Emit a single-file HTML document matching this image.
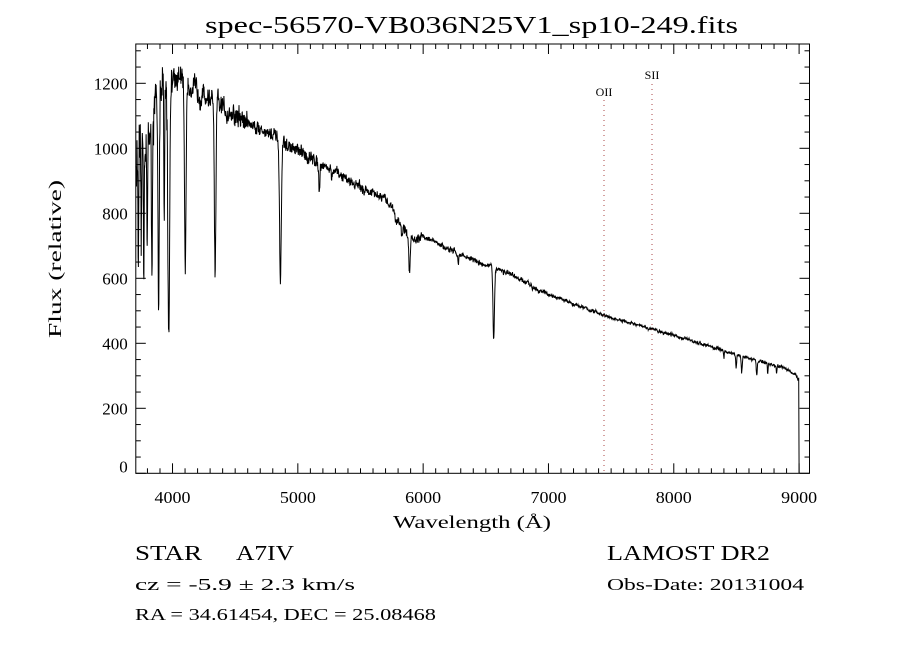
<!DOCTYPE html>
<html><head><meta charset="utf-8"><style>
body{margin:0;background:#fff;}
svg{display:block;}
text{font-family:"Liberation Serif",serif;fill:#000;}
.t{font-family:"Liberation Sans",sans-serif;font-size:17px;}
</style></head><body>
<svg id="s" width="900" height="650" viewBox="0 0 900 650" xmlns="http://www.w3.org/2000/svg">
<rect width="900" height="650" fill="#fff"/>
<text x="205" y="33" font-size="24" textLength="533" lengthAdjust="spacingAndGlyphs">spec-56570-VB036N25V1_sp10-249.fits</text>
<g id="ax" stroke="#000" stroke-width="1" fill="none"></g>
<path id="sp" stroke="#000" stroke-width="1" fill="none"/>
<line x1="604" y1="100" x2="604" y2="473" stroke="#a44" stroke-dasharray="1,4"/>
<line x1="652" y1="84" x2="652" y2="473" stroke="#a44" stroke-dasharray="1,4"/>
<text x="604" y="96" font-size="12" text-anchor="middle">OII</text>
<text x="652" y="79" font-size="12" text-anchor="middle">SII</text>
<g id="lb" class="t"></g>
<text x="393" y="528" font-size="18" textLength="158" lengthAdjust="spacingAndGlyphs">Wavelength (Å)</text>
<text transform="translate(61,338) rotate(-90)" font-size="18" textLength="158" lengthAdjust="spacingAndGlyphs">Flux (relative)</text>
<text x="135" y="560" font-size="21" textLength="67" lengthAdjust="spacingAndGlyphs">STAR</text>
<text x="236" y="560" font-size="21" textLength="58" lengthAdjust="spacingAndGlyphs">A7IV</text>
<text x="135" y="590" font-size="17" textLength="220" lengthAdjust="spacingAndGlyphs">cz = -5.9 ± 2.3 km/s</text>
<text x="135" y="620" font-size="17" textLength="301" lengthAdjust="spacingAndGlyphs">RA =  34.61454, DEC =  25.08468</text>
<text x="607" y="560" font-size="21" textLength="163" lengthAdjust="spacingAndGlyphs">LAMOST DR2</text>
<text x="607" y="590" font-size="17" textLength="197" lengthAdjust="spacingAndGlyphs">Obs-Date: 20131004</text>
</svg>
<script>
var L=135.8,R=809.5,T=44,B=473.3,x0=3707,x1=9083;
function X(w){return L+(w-x0)*(R-L)/(x1-x0);}
function Y(f){return B-f*0.325;}
var ax=document.getElementById('ax'),lb=document.getElementById('lb'),h='',lt='';
h+='<rect x="'+L+'" y="'+T+'" width="'+(R-L)+'" height="'+(B-T)+'"/>';
for(var w=3800;w<=9000;w+=100){var x=X(w),m=w%1000==0?10:5;h+='<line x1="'+x+'" y1="'+B+'" x2="'+x+'" y2="'+(B-m)+'"/><line x1="'+x+'" y1="'+T+'" x2="'+x+'" y2="'+(T+m)+'"/>';
if(w%1000==0)lt+='<text x="'+x+'" y="503" text-anchor="middle" textLength="36" lengthAdjust="spacingAndGlyphs">'+w+'</text>';}
for(var f=0;f<=1300;f+=50){var y=Y(f),m=f%200==0?10:5;h+='<line x1="'+L+'" y1="'+y+'" x2="'+(L+m)+'" y2="'+y+'"/><line x1="'+R+'" y1="'+y+'" x2="'+(R-m)+'" y2="'+y+'"/>';
if(f%200==0)lt+='<text x="'+(L-8)+'" y="'+(y+(f==0?-1:6))+'" text-anchor="end">'+f+'</text>';}
ax.innerHTML=h;lb.innerHTML=lt;
var K=[[3707,950],[3900,1150],[4000,1230],[4100,1200],[4300,1150],[4500,1100],[4800,1040],[4900,1010],[5200,950],[5500,880],[5700,840],[5760,820],[5800,780],[5900,720],[6000,730],[6200,690],[6500,640],[6600,630],[7000,550],[7500,478],[8000,425],[8500,365],[8900,322],[8985,300]];
function cont(w){for(var i=0;i<K.length-1;i++)if(w<=K[i+1][0]){var a=K[i],b=K[i+1];return a[1]+(b[1]-a[1])*(w-a[0])/(b[0]-a[0]);}return 290;}
var lines=[[3970,780,7],[4102,560,6],[4340,540,6],[4861,440,7],[6563,220,6],[5890,110,5],[5172,90,4],[3889,560,5],[3835,480,4],[3798,430,3],[3771,380,3],[3750,330,3],[3934,450,3],[3727,300,3],[8498,40,4],[8542,50,4],[8662,45,4],[8400,25,3],[8750,30,3],[8820,25,3],[6280,30,4],[5270,30,4],[5780,30,6],[5830,25,5]];
var s=12345;function rnd(){s=(s*16807)%2147483647;return s/2147483647-0.5;}
var d='',sm=0;
for(var w=3708;w<=8998;w+=2.2){var f=cont(w);for(var j=0;j<lines.length;j++){var l=lines[j];var z=(w-l[0])/l[2];if(Math.abs(z)<5)f-=l[1]*Math.exp(-z*z/2);}
var n=w<4000?150:(w<4600?70:(w<5200?40:(w<6000?30:(w<7000?16:10))));sm=0.6*sm+rnd();f+=(sm*0.6+rnd()*0.6)*n;
d+=(d?'L':'M')+X(w).toFixed(1)+' '+Y(f).toFixed(1);}
d+='L'+X(9000).toFixed(1)+' '+Y(0).toFixed(1);
document.getElementById('sp').setAttribute('d',d);
</script>
</body></html>
